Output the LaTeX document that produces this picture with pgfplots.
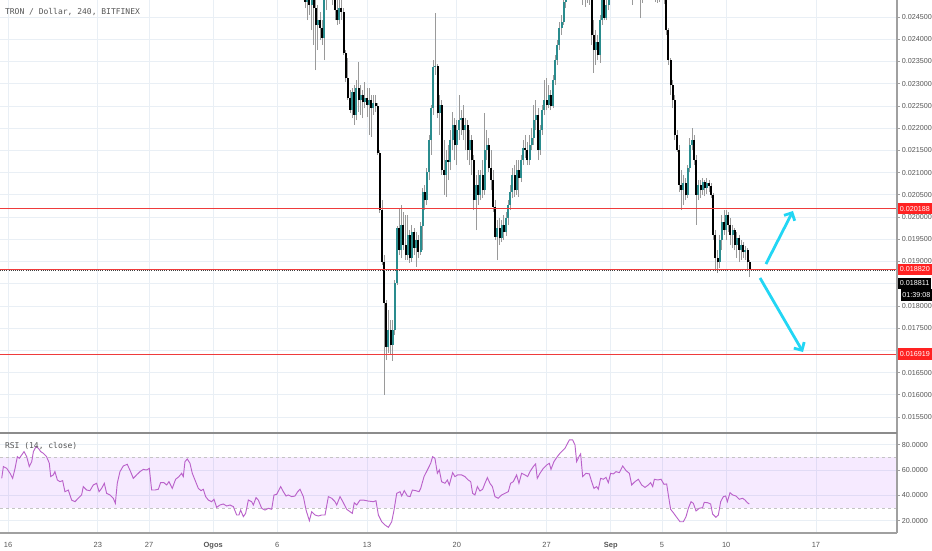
\documentclass[border=0pt]{standalone}
\usepackage{pgfplots}
\pgfplotsset{compat=1.18}
\usepackage{pgfplotstable}
\usepackage{fontspec}
\setmainfont{Liberation Sans}
\newfontfamily\monof{DejaVu Sans Mono}
\usetikzlibrary{arrows.meta}
\definecolor{gridc}{HTML}{E9EFF5}
\definecolor{upc}{HTML}{2A8C8E}
\definecolor{wickc}{HTML}{9A9A9A}
\definecolor{rsic}{HTML}{BA62CA}
\definecolor{bandc}{HTML}{9915FF}
\definecolor{dashc}{HTML}{C4C4C4}
\definecolor{lvred}{HTML}{EF3B3B}
\definecolor{boxred}{HTML}{FF2222}
\definecolor{cyanc}{HTML}{22D6F4}
\definecolor{labc}{HTML}{555555}
\definecolor{axc}{HTML}{A0A0A0}

\pgfplotstableread{
n o h l c
137 0.025333 0.025558 0.024928 0.025108
138 0.025108 0.025446 0.024883 0.025221
139 0.025221 0.025333 0.024703 0.024838
140 0.024838 0.025108 0.024433 0.024996
141 0.024996 0.025153 0.024546 0.024771
142 0.024771 0.024996 0.024208 0.024883
143 0.024883 0.025063 0.023871 0.024703
144 0.024703 0.024883 0.023308 0.024321
145 0.024321 0.024771 0.023758 0.024433
146 0.024433 0.024613 0.023983 0.024253
147 0.024253 0.024433 0.023871 0.024028
148 0.024028 0.024996 0.023533 0.024883
149 0.024883 0.025333 0.024658 0.025108
150 0.025108 0.025558 0.024996 0.025333
151 0.025333 0.025558 0.024996 0.025221
152 0.025221 0.025446 0.024771 0.024996
153 0.024996 0.025108 0.024433 0.024658
154 0.024658 0.024996 0.024321 0.024433
155 0.024433 0.024883 0.024343 0.024703
156 0.024703 0.024883 0.024433 0.024613
157 0.024613 0.024703 0.023646 0.023691
158 0.023691 0.023758 0.023038 0.023128
159 0.023128 0.023578 0.022633 0.022678
160 0.022678 0.022858 0.022341 0.022408
161 0.022408 0.022903 0.022228 0.022813
162 0.022813 0.022971 0.022071 0.022296
163 0.022296 0.023083 0.022183 0.022903
164 0.022903 0.023488 0.022363 0.022633
165 0.022633 0.022971 0.022296 0.022746
166 0.022746 0.022858 0.022228 0.022588
167 0.022588 0.023038 0.022453 0.022678
168 0.022678 0.022903 0.022251 0.022521
169 0.022521 0.022903 0.021846 0.022633
170 0.022633 0.022746 0.021801 0.022453
171 0.022453 0.022746 0.022296 0.022566
172 0.022566 0.022746 0.022363 0.022498
173 0.022498 0.022566 0.021396 0.021441
174 0.021441 0.021508 0.020091 0.020158
175 0.020158 0.020383 0.018921 0.018988
176 0.018988 0.019146 0.015996 0.018066
177 0.018066 0.018133 0.016783 0.017076
178 0.017076 0.017908 0.016941 0.017458
179 0.017458 0.017683 0.016896 0.017121
180 0.017121 0.017683 0.016761 0.017458
181 0.017458 0.018583 0.017346 0.018516
182 0.018516 0.019798 0.018471 0.019753
183 0.019753 0.020203 0.019146 0.019258
184 0.019258 0.020271 0.019078 0.019821
185 0.019821 0.020113 0.019258 0.019371
186 0.019371 0.020046 0.019033 0.019146
187 0.019146 0.020046 0.019033 0.019596
188 0.019596 0.019708 0.018966 0.019078
189 0.019078 0.019821 0.018988 0.019663
190 0.019663 0.019753 0.019146 0.019303
191 0.019303 0.019663 0.018876 0.019483
192 0.019483 0.019596 0.019078 0.019213
193 0.019213 0.019888 0.019146 0.019798
194 0.019798 0.020653 0.019258 0.020563
195 0.020563 0.020721 0.020158 0.020383
196 0.020383 0.021103 0.020271 0.021013
197 0.021013 0.021846 0.020833 0.021733
198 0.021733 0.022521 0.021396 0.022453
199 0.022453 0.023533 0.022296 0.023376
200 0.023376 0.024591 0.023196 0.023398
201 0.023398 0.023443 0.022228 0.022341
202 0.022341 0.022746 0.021846 0.022521
203 0.022521 0.022633 0.020946 0.021058
204 0.021058 0.021733 0.020496 0.020946
205 0.020946 0.021508 0.020451 0.021283
206 0.021283 0.021621 0.020833 0.021238
207 0.021238 0.021958 0.021058 0.021733
208 0.021733 0.022363 0.021508 0.022071
209 0.022071 0.022228 0.021283 0.021621
210 0.021621 0.022183 0.021171 0.021958
211 0.021958 0.022746 0.021733 0.022183
212 0.022183 0.022408 0.021846 0.022228
213 0.022228 0.022521 0.021733 0.021958
214 0.021958 0.022228 0.021508 0.022071
215 0.022071 0.022183 0.021283 0.021508
216 0.021508 0.021958 0.021171 0.021733
217 0.021733 0.021846 0.020946 0.021283
218 0.021283 0.021396 0.020158 0.020383
219 0.020383 0.020946 0.019708 0.020721
220 0.020721 0.021058 0.020271 0.020496
221 0.020496 0.021058 0.020383 0.020946
222 0.020946 0.021283 0.020428 0.020608
223 0.020608 0.022341 0.020496 0.021508
224 0.021508 0.021958 0.021283 0.021621
225 0.021621 0.021778 0.021013 0.021103
226 0.021103 0.021508 0.020608 0.020833
227 0.020833 0.021058 0.020113 0.020226
228 0.020226 0.020383 0.019483 0.019551
229 0.019551 0.019933 0.019033 0.019753
230 0.019753 0.019978 0.019371 0.019528
231 0.019528 0.019933 0.019438 0.019821
232 0.019821 0.020046 0.019483 0.019663
233 0.019663 0.020113 0.019573 0.019978
234 0.019978 0.020383 0.019821 0.020271
235 0.020271 0.020721 0.020158 0.020563
236 0.020563 0.021103 0.020428 0.020946
237 0.020946 0.021171 0.020451 0.020608
238 0.020608 0.021283 0.020496 0.021058
239 0.021058 0.021283 0.020451 0.020878
240 0.020878 0.021396 0.020788 0.021283
241 0.021283 0.021733 0.021171 0.021553
242 0.021553 0.021846 0.021328 0.021508
243 0.021508 0.021688 0.021171 0.021283
244 0.021283 0.021846 0.021171 0.021621
245 0.021621 0.022003 0.021508 0.021778
246 0.021778 0.022521 0.021621 0.022183
247 0.022183 0.022633 0.021958 0.022296
248 0.022296 0.022453 0.021283 0.021508
249 0.021508 0.022071 0.021396 0.021958
250 0.021958 0.022521 0.021846 0.022408
251 0.022408 0.023083 0.022296 0.022633
252 0.022633 0.023128 0.022408 0.022521
253 0.022521 0.022971 0.022453 0.022746
254 0.022746 0.022858 0.022408 0.022498
255 0.022498 0.023196 0.022453 0.023083
256 0.023083 0.023646 0.022971 0.023533
257 0.023533 0.023983 0.023421 0.023871
258 0.023871 0.024388 0.023758 0.024253
259 0.024253 0.024546 0.024096 0.024388
260 0.024388 0.024996 0.024321 0.024838
261 0.024838 0.025446 0.024703 0.025221
262 0.025221 0.025783 0.025108 0.025558
263 0.025558 0.026121 0.025446 0.025896
264 0.025896 0.026233 0.025558 0.025783
265 0.025783 0.026346 0.025671 0.026121
266 0.026121 0.026458 0.025783 0.026008
267 0.026008 0.026233 0.025446 0.025671
268 0.025671 0.025896 0.024996 0.025333
269 0.025333 0.025558 0.024771 0.025108
270 0.025108 0.025333 0.024726 0.024996
271 0.024996 0.025446 0.024816 0.025221
272 0.025221 0.025446 0.024771 0.024883
273 0.024883 0.024996 0.023871 0.024096
274 0.024096 0.024433 0.023241 0.023758
275 0.023758 0.024208 0.023421 0.023938
276 0.023938 0.024096 0.023533 0.023646
277 0.023646 0.024546 0.023466 0.024433
278 0.024433 0.024996 0.024321 0.024883
279 0.024883 0.025063 0.024433 0.024478
280 0.024478 0.024996 0.024433 0.024771
281 0.024771 0.025333 0.024658 0.025108
282 0.025108 0.025558 0.024996 0.025333
283 0.025333 0.025783 0.025221 0.025558
284 0.025558 0.025896 0.025221 0.025446
285 0.025446 0.025896 0.025333 0.025671
286 0.025671 0.026008 0.025333 0.025558
287 0.025558 0.025783 0.025108 0.025333
288 0.025333 0.025558 0.024996 0.025221
289 0.025221 0.025558 0.025063 0.025333
290 0.025333 0.025513 0.024951 0.025153
291 0.025153 0.025446 0.024996 0.025288
292 0.025288 0.025446 0.024771 0.025063
293 0.025063 0.025378 0.024883 0.025221
294 0.025221 0.025513 0.025063 0.025333
295 0.025333 0.025513 0.024928 0.025153
296 0.025153 0.025333 0.024478 0.024996
297 0.024996 0.025446 0.024816 0.025221
298 0.025221 0.025558 0.025063 0.025333
299 0.025333 0.025513 0.024951 0.025108
300 0.025108 0.025333 0.024928 0.025221
301 0.025221 0.025378 0.024883 0.025063
302 0.025063 0.025333 0.024928 0.025153
303 0.025153 0.025288 0.024838 0.024996
304 0.024996 0.025221 0.024816 0.025108
305 0.025108 0.025288 0.024838 0.024996
306 0.024996 0.025221 0.024883 0.025063
307 0.025063 0.025221 0.024793 0.024883
308 0.024883 0.024996 0.024096 0.024208
309 0.024208 0.024253 0.023421 0.023533
310 0.023533 0.023578 0.022746 0.022971
311 0.022971 0.023083 0.022453 0.022633
312 0.022633 0.022746 0.021733 0.021846
313 0.021846 0.021958 0.021463 0.021508
314 0.021508 0.021621 0.020563 0.020721
315 0.020721 0.021058 0.020158 0.020608
316 0.020608 0.020946 0.020271 0.020766
317 0.020766 0.020878 0.020383 0.020496
318 0.020496 0.021171 0.020428 0.021103
319 0.021103 0.021778 0.021013 0.021621
320 0.021621 0.022003 0.021508 0.021733
321 0.021733 0.021846 0.021171 0.021283
322 0.021283 0.021396 0.019821 0.020496
323 0.020496 0.020833 0.020383 0.020721
324 0.020721 0.020833 0.020428 0.020608
325 0.020608 0.020878 0.020496 0.020788
326 0.020788 0.020833 0.020473 0.020653
327 0.020653 0.020878 0.020518 0.020766
328 0.020766 0.020833 0.020563 0.020698
329 0.020698 0.020766 0.020428 0.020496
330 0.020496 0.020541 0.019483 0.019596
331 0.019596 0.019708 0.018808 0.019078
332 0.019078 0.019258 0.018741 0.018988
333 0.018988 0.019596 0.018853 0.019483
334 0.019483 0.020046 0.019258 0.019888
335 0.019888 0.020158 0.019596 0.019708
336 0.019708 0.020158 0.019483 0.020046
337 0.020046 0.020113 0.019663 0.019821
338 0.019821 0.019978 0.019371 0.019596
339 0.019596 0.019821 0.019303 0.019708
340 0.019708 0.019753 0.019258 0.019371
341 0.019371 0.019663 0.019078 0.019528
342 0.019528 0.019596 0.018988 0.019258
343 0.019258 0.019483 0.019033 0.019371
344 0.019371 0.019438 0.019078 0.019213
345 0.019213 0.019348 0.019033 0.019258
346 0.019258 0.019303 0.018808 0.018988
347 0.018988 0.019033 0.018651 0.018811
}\candles

\pgfplotstableread{
d v
-0.49 53.4
-0.36 62.7
-0.10 61.3
0.16 57.4
0.36 53.4
0.55 61.3
0.73 70.5
0.88 69.2
1.07 71.9
1.25 74.5
1.46 70.5
1.66 62.7
1.85 66.6
1.98 74.5
2.18 78.4
2.37 77.1
2.55 74.5
2.75 73.2
3.01 70.5
3.22 65.3
3.33 54.8
3.53 56.1
3.66 58.7
3.85 52.1
4.05 50.8
4.26 51.6
4.44 42.9
4.70 44.2
4.96 36.3
5.22 35.0
5.48 37.7
5.74 40.3
5.87 46.9
6.13 44.2
6.39 43.7
6.65 48.2
6.91 49.5
7.10 42.9
7.30 45.5
7.51 49.5
7.69 41.6
7.95 40.3
8.21 37.7
8.37 33.7
8.52 49.5
8.73 58.7
8.99 63.2
9.30 64.5
9.56 58.7
9.77 53.4
10.03 56.1
10.29 58.7
10.55 60.5
10.81 60.0
11.02 61.3
11.20 44.2
11.46 44.2
11.72 44.8
11.90 50.0
12.16 50.0
12.37 48.2
12.55 50.8
12.81 45.5
13.07 52.7
13.33 54.8
13.54 57.4
13.67 54.8
13.80 66.6
13.98 68.7
14.19 65.3
14.37 57.4
14.58 52.1
14.84 45.5
15.05 43.7
15.23 44.8
15.41 39.0
15.62 36.3
15.88 35.0
16.06 36.9
16.27 30.5
16.53 32.4
16.79 33.2
17.05 31.6
17.31 32.4
17.57 31.1
17.83 24.5
18.01 24.5
18.14 28.4
18.35 23.2
18.53 25.8
18.74 36.3
19.00 35.0
19.13 32.4
19.34 38.2
19.52 36.3
19.78 29.8
20.04 28.4
20.30 29.8
20.56 29.0
20.74 40.3
20.95 40.8
21.26 46.9
21.47 42.9
21.68 39.5
21.86 40.3
22.12 39.0
22.38 39.5
22.59 42.9
22.77 44.8
23.03 39.0
23.24 28.4
23.50 20.0
23.68 27.1
23.94 24.5
24.20 23.7
24.46 24.5
24.72 24.5
24.98 39.0
25.24 37.7
25.50 35.0
25.63 32.4
25.89 39.0
26.15 34.2
26.41 29.0
26.67 27.1
26.85 25.8
27.00 34.2
27.19 32.4
27.45 36.3
27.71 36.3
28.10 35.5
28.49 35.0
28.69 35.8
28.88 24.5
29.14 19.2
29.40 16.6
29.66 14.8
29.92 19.2
30.10 28.4
30.31 41.6
30.57 42.9
30.70 39.5
30.90 43.7
31.14 39.5
31.35 39.0
31.53 44.2
31.79 43.7
32.05 42.9
32.18 45.5
32.44 54.8
32.70 60.0
32.96 65.3
33.11 70.5
33.29 69.2
33.48 57.4
33.63 60.0
33.81 50.8
34.07 49.5
34.26 52.1
34.41 48.2
34.67 57.9
34.85 54.8
35.06 56.1
35.37 56.1
35.63 54.8
35.89 52.1
36.08 50.8
36.23 41.6
36.41 40.3
36.60 46.9
36.80 43.4
37.01 44.8
37.19 49.5
37.38 54.0
37.58 49.5
37.77 46.9
37.97 39.0
38.23 37.7
38.49 40.3
38.75 41.6
39.01 42.9
39.19 49.5
39.40 50.8
39.66 56.1
39.84 49.5
40.05 57.4
40.31 56.1
40.52 54.8
40.70 58.7
40.96 62.7
41.14 64.8
41.27 53.4
41.48 57.4
41.74 61.3
42.00 63.9
42.21 65.3
42.34 60.5
42.57 66.6
42.83 70.5
43.04 73.2
43.43 77.1
43.77 83.7
44.03 83.7
44.21 79.8
44.34 66.6
44.55 71.1
44.65 72.7
44.81 54.8
45.07 57.4
45.33 56.9
45.51 50.8
45.69 45.5
45.90 46.9
46.03 44.8
46.21 53.4
46.42 52.7
46.63 54.2
46.81 50.0
46.99 57.4
47.20 56.9
47.41 58.7
47.67 57.9
47.93 63.2
48.19 59.5
48.45 57.4
48.63 48.2
48.89 50.8
49.15 52.7
49.41 48.2
49.67 46.3
49.93 48.2
50.11 50.0
50.27 46.9
50.40 52.7
50.66 52.1
50.92 52.7
51.15 48.7
51.36 49.0
51.49 40.3
51.67 29.0
51.88 26.3
52.14 22.7
52.40 19.2
52.66 19.2
52.87 23.2
53.05 29.8
53.26 35.0
53.44 33.7
53.65 27.7
53.90 29.8
54.16 30.3
54.29 34.5
54.55 34.2
54.79 33.2
54.94 25.3
55.20 22.7
55.39 24.5
55.57 35.0
55.78 39.0
55.96 39.5
56.09 35.0
56.30 42.1
56.51 40.3
56.76 39.5
57.02 36.9
57.28 37.7
57.47 36.3
57.65 34.2
57.80 33.2
}\rsidata

\pgfplotsset{
  tvbase/.style={
    scale only axis, width=672.75pt,
    xmin=-0.624, xmax=69.32,
    axis line style={draw=none},
    xtick={0,7,11,16,21,28,35,42,47,51,56,63},
    xmajorgrids, ymajorgrids,
    grid style={color=gridc, line width=0.6pt},
    xtick style={draw=none},
    ytick pos=right, yticklabel pos=right,
    tick align=outside, major tick length=2.2pt,
    ytick style={color=axc, line width=0.6pt},
    yticklabel style={anchor=west, font=\fontsize{5.4}{6}\selectfont, text=labc, inner xsep=1.2pt},
    xticklabel style={font=\fontsize{5.6}{6}\selectfont, text=labc},
  },
  candle/.style n args={2}{draw=none, mark=none, forget plot,
    error bars/.cd, y dir=plus, y explicit, error mark=none,
    error bar style={draw=#1, line width=#2, line cap=butt}},
}

\begin{document}
\begin{tikzpicture}
\path[use as bounding box] (0pt,0pt) rectangle (699pt,-412.5pt);
% price pane
\begin{axis}[tvbase,
  at={(0pt,-324pt)}, anchor=south west, height=324pt,
  ymin=0.015163, ymax=0.024883,
  xticklabels={},
  ytick={0.0155,0.016,0.0165,0.017,0.0175,0.018,0.0185,0.019,0.0195,0.02,0.0205,0.021,0.0215,0.022,0.0225,0.023,0.0235,0.024,0.0245},
  yticklabels={0.015500,0.016000,0.016500,{},0.017500,0.018000,{},0.019000,0.019500,0.020000,0.020500,0.021000,0.021500,0.022000,0.022500,0.023000,0.023500,0.024000,0.024500},
]
\addplot[candle={wickc}{0.7pt}]
  table[x expr=\thisrow{n}/6, y=l, y error expr=\thisrow{h}-\thisrow{l}] {\candles};
\addplot[candle={upc}{1.5pt}]
  table[x expr=\thisrow{n}/6, y=o, y error expr={max(\thisrow{c}-\thisrow{o},0)}] {\candles};
\addplot[candle={black}{1.5pt}]
  table[x expr=\thisrow{n}/6, y=c, y error expr={max(\thisrow{o}-\thisrow{c},0)}] {\candles};
\draw[lvred, line width=0.6pt] (axis cs:-0.624,0.020188) -- (axis cs:69.32,0.020188);
\draw[lvred, line width=0.9pt] (axis cs:-0.624,0.018820) -- (axis cs:69.32,0.018820);
\draw[black!75, line width=0.6pt, dash pattern=on 0.7pt off 0.9pt] (axis cs:-0.624,0.018808) -- (axis cs:69.32,0.018808);
\draw[lvred, line width=0.6pt] (axis cs:-0.624,0.016919) -- (axis cs:69.32,0.016919);
\draw[cyanc, line width=2.1pt, -{Straight Barb[length=4.5pt,width=9pt]}] (axis cs:59.10,0.018943) -- (axis cs:61.21,0.020136);
\draw[cyanc, line width=2.1pt, -{Straight Barb[length=4.5pt,width=9pt]}] (axis cs:58.64,0.018628) -- (axis cs:61.99,0.016963);
\coordinate (L1) at (axis cs:69.32,0.020188);
\coordinate (L2) at (axis cs:69.32,0.018820);
\coordinate (L3) at (axis cs:69.32,0.016919);
\end{axis}
% RSI pane
\begin{axis}[tvbase,
  at={(0pt,-399.75pt)}, anchor=south west, height=74.25pt,
  ymin=10.3, ymax=88.4,
  xticklabels={16,23,27,\textbf{Ogos},6,13,20,27,\textbf{Sep},5,10,17},
  xticklabel style={yshift=-1.6pt},
  ytick={20,40,60,80},
  yticklabels={20.0000,40.0000,60.0000,80.0000},
]
\fill[bandc, fill opacity=0.09] (axis cs:-0.624,30) rectangle (axis cs:69.32,70);
\draw[dashc, line width=0.6pt, dash pattern=on 2.5pt off 2pt] (axis cs:-0.624,70) -- (axis cs:69.32,70);
\draw[dashc, line width=0.6pt, dash pattern=on 2.5pt off 2pt] (axis cs:-0.624,30) -- (axis cs:69.32,30);
\addplot[rsic, line width=0.7pt, mark=none] table[x=d, y=v] {\rsidata};
\end{axis}
% frame lines
\draw[axc, line width=1pt] (672.75pt,0pt) -- (672.75pt,-399.75pt);
\draw[black!45, line width=1.4pt] (0pt,-324.9pt) -- (672.75pt,-324.9pt);
\draw[axc, line width=1pt] (0pt,-399.75pt) -- (672.75pt,-399.75pt);
% texts
\node[anchor=west, inner sep=0pt, text=labc, font=\monof\fontsize{6}{7}\selectfont] at (3.6pt,-9pt) {TRON / Dollar, 240, BITFINEX};
\node[anchor=west, inner sep=0pt, text=labc, font=\monof\fontsize{6}{7}\selectfont] at (3.6pt,-334.5pt) {RSI (14, close)};
% price labels
\node[anchor=west, fill=boxred, text=white, inner xsep=1.4pt, inner ysep=0pt, minimum height=8.6pt, font=\fontsize{5.4}{6}\selectfont] at ([xshift=0.6pt]L1) {0.020188};
\node[anchor=west, fill=boxred, text=white, inner xsep=1.4pt, inner ysep=0pt, minimum height=8.6pt, font=\fontsize{5.4}{6}\selectfont] at ([xshift=0.6pt]L2) {0.018820};
\node[anchor=west, fill=black, text=white, inner xsep=1.4pt, inner ysep=0pt, minimum height=8.6pt, font=\fontsize{5.4}{6}\selectfont] at ([xshift=0.6pt,yshift=-10.5pt]L2) {0.018811};
\node[anchor=west, fill=black, text=white, inner xsep=1.4pt, inner ysep=0pt, minimum height=8.6pt, font=\fontsize{5.4}{6}\selectfont] at ([xshift=2.5pt,yshift=-19pt]L2) {01:39:08};
\node[anchor=west, fill=boxred, text=white, inner xsep=1.4pt, inner ysep=0pt, minimum height=8.6pt, font=\fontsize{5.4}{6}\selectfont] at ([xshift=0.6pt]L3) {0.016919};
\end{tikzpicture}
\end{document}
